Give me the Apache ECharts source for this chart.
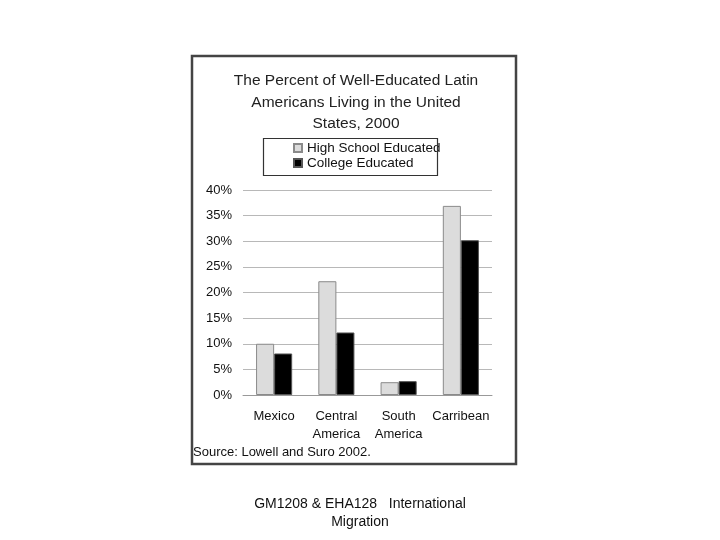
<!DOCTYPE html>
<html><head><meta charset="utf-8">
<script src="https://cdn.jsdelivr.net/npm/echarts@6/dist/echarts.min.js"></script>
<style>html,body{margin:0;padding:0;background:#fff}#c{width:720px;height:540px}</style>
</head><body><div id="c"></div>
<script>
var categories = ['Mexico', 'Central\nAmerica', 'South\nAmerica', 'Carribean'];
var highSchool = [10.0, 22.2, 2.5, 36.9];
var college = [8.1, 12.2, 2.7, 30.2];
var yTicks = [0, 5, 10, 15, 20, 25, 30, 35, 40];
var seriesNames = ['High School Educated', 'College Educated'];

var chart = echarts.init(document.getElementById('c'), null, {renderer: 'canvas'});
var font = 'Liberation Sans, Arial, sans-serif';
chart.setOption({
  animation: false,
  backgroundColor: '#fff',
  title: [
    {text: 'The Percent of Well-Educated Latin\nAmericans Living in the United\nStates, 2000',
     left: 356, textAlign: 'center', top: 70, padding: 0,
     textStyle: {fontFamily: font, fontSize: 15.5, fontWeight: 'normal', color: '#222', lineHeight: 21.5}},
    {text: 'Source: Lowell and Suro 2002.', left: 193, top: 446, padding: 0,
     textStyle: {fontFamily: font, fontSize: 13, fontWeight: 'normal', color: '#111'}},
    {text: 'GM1208 & EHA128   International\nMigration', left: 360, textAlign: 'center', top: 495, padding: 0,
     textStyle: {fontFamily: font, fontSize: 14, fontWeight: 'normal', color: '#111', lineHeight: 18}}
  ],
  graphic: [
    {type: 'rect', shape: {x: 192, y: 56, width: 324, height: 408},
     style: {fill: 'none', stroke: '#444', lineWidth: 2.5}, z: 10},
    {type: 'rect', shape: {x: 263.5, y: 138.5, width: 174, height: 37},
     style: {fill: 'none', stroke: '#333', lineWidth: 1.2}, z: 10}
  ],
  legend: {
    orient: 'vertical', left: 293, top: 141, itemGap: 1, padding: 0,
    itemWidth: 8, itemHeight: 8, icon: 'rect',
    textStyle: {fontFamily: font, fontSize: 13.5, color: '#111'},
    data: seriesNames
  },
  grid: {left: 243, right: 228, top: 190, bottom: 145, containLabel: false},
  xAxis: {
    type: 'category', data: categories,
    axisLine: {lineStyle: {color: '#999', width: 1}},
    axisTick: {show: false},
    axisLabel: {fontFamily: font, fontSize: 13, color: '#111', margin: 12, lineHeight: 18, interval: 0}
  },
  yAxis: {
    type: 'value', min: 0, max: 40, interval: 5,
    axisLine: {show: false}, axisTick: {show: false},
    axisLabel: {fontFamily: font, fontSize: 13, color: '#111', margin: 11,
      formatter: function (v) { return yTicks.indexOf(v) >= 0 ? v + '%' : ''; }},
    splitLine: {lineStyle: {color: '#b8b8b8', width: 1}}
  },
  series: [
    {name: seriesNames[0], type: 'bar', data: highSchool, barGap: '0%', barCategoryGap: '42%',
     itemStyle: {color: '#dcdcdc', borderColor: '#8a8a8a', borderWidth: 1}},
    {name: seriesNames[1], type: 'bar', data: college,
     itemStyle: {color: '#000', borderColor: '#555', borderWidth: 1}}
  ]
});
</script></body></html>
